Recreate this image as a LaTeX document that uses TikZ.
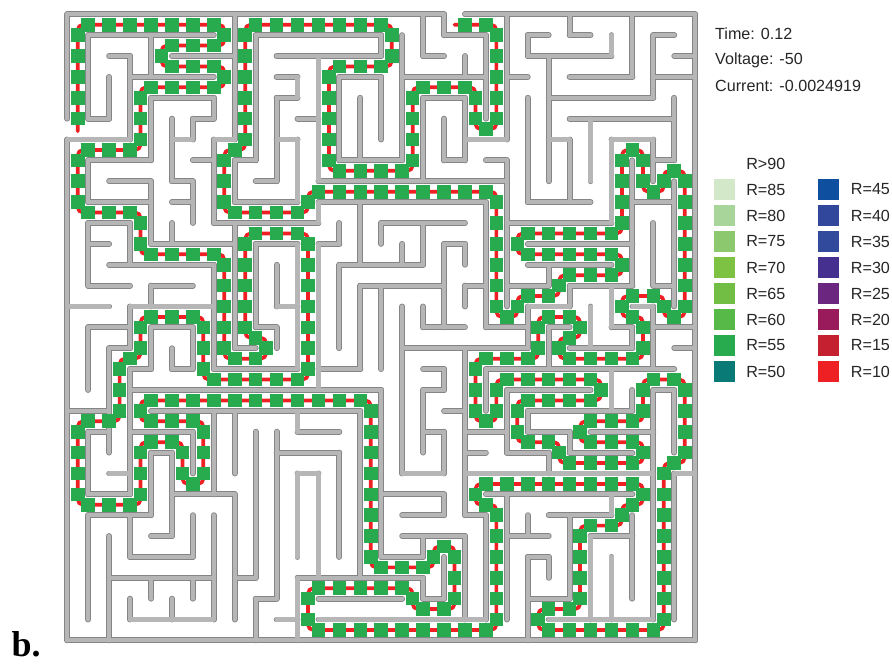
\documentclass[tikz,border=0pt]{standalone}
\usepackage{fontspec}
\setmainfont{Liberation Sans}
\newfontfamily\labelserif{Liberation Serif}
\definecolor{walldark}{HTML}{858585}
\definecolor{walllight}{HTML}{B6B6B6}
\definecolor{routered}{HTML}{EE2024}
\definecolor{rgreen}{HTML}{28AB4F}
\definecolor{c85}{HTML}{D2E8C9}\definecolor{c80}{HTML}{A8D59A}
\definecolor{c75}{HTML}{8BC86E}\definecolor{c70}{HTML}{7DC242}
\definecolor{c65}{HTML}{72BE44}\definecolor{c60}{HTML}{57B947}
\definecolor{c55}{HTML}{28AB4F}\definecolor{c50}{HTML}{0A7A77}
\definecolor{c45}{HTML}{0F4FA0}\definecolor{c40}{HTML}{31479C}
\definecolor{c35}{HTML}{324A9C}\definecolor{c30}{HTML}{45308F}
\definecolor{c25}{HTML}{6B2780}\definecolor{c20}{HTML}{991B5B}
\definecolor{c15}{HTML}{C4202F}\definecolor{c10}{HTML}{EE2024}
\tikzset{
  walloutline/.style={draw=walldark,line width=4.4pt,line cap=round},
  wallcore/.style={draw=walllight,line width=3.1pt,line cap=round},
  routeline/.style={draw=routered,line width=2.8pt,line cap=round,line join=round,rounded corners=4pt},
  routesq/.style={fill=rgreen},
  txt/.style={anchor=west,inner sep=0pt,font=\fontsize{12.1pt}{14pt}\selectfont,text=black!85},
}
% horizontal walls: y / x1 / x2
\newcommand\hwalls{0/0/18,0/19/30,
1/1/7,1/9/15,1/18/20,1/22/23,1/24/25,1/28/29,
2/2/3,2/5/8,2/10/15,2/17/18,2/22/26,2/29/30,
3/3/7,3/10/11,3/13/15,3/16/20,3/21/22,3/24/27,3/28/30,
4/4/7,4/10/11,4/17/19,4/23/28,
5/1/2,5/6/7,5/11/12,5/24/29,
6/0/3,6/5/6,6/7/8,6/10/11,6/19/21,6/23/24,6/26/28,
7/1/4,7/6/7,7/8/9,7/13/16,7/18/19,7/20/21,7/28/29,
8/2/4,8/5/6,8/9/10,8/12/21,
9/1/4,9/5/6,9/8/11,9/12/20,9/22/25,9/27/29,
10/1/3,10/7/12,10/15/19,10/21/26,
11/1/2,11/4/8,11/9/11,11/12/13,11/18/19,11/22/27,
12/2/7,12/13/17,12/22/26,
13/1/3,13/4/6,13/14/18,13/19/20,13/21/23,13/24/27,13/28/29,
14/0/2,14/3/7,14/10/11,14/22/24,14/27/28,
15/1/3,15/4/6,15/9/10,15/17/19,15/20/22,15/23/24,15/26/27,15/28/30,
16/2/3,16/8/9,16/16/22,16/24/27,16/29/30,
17/3/4,17/5/6,17/7/11,17/12/14,17/17/18,17/20/29,
18/3/15,18/17/18,18/21/25,18/28/29,
19/0/2,19/4/14,19/18/19,19/22/27,
20/1/2,20/3/6,20/11/13,20/17/18,20/19/21,20/22/24,20/25/28,
21/4/5,21/10/13,21/19/20,21/21/23,21/24/27,
22/2/3,22/11/12,22/16/18,22/19/28,22/29/30,
23/1/3,23/5/8,23/15/18,23/20/27,
24/1/4,24/16/18,24/19/20,24/23/26,
25/4/5,25/16/19,25/21/23,25/25/27,
26/3/6,26/15/17,26/22/23,
27/2/7,27/8/9,27/11/17,
28/9/10,28/12/16,28/17/18,28/22/24,
29/3/7,29/10/11,29/12/20,29/23/28,
30/0/30}
% vertical walls: x / y1 / y2
\newcommand\vwalls{0/0/5,0/6/30,
1/1/5,1/7/9,1/10/13,1/15/18,1/20/23,1/24/29,
2/3/5,2/16/21,2/25/30,
3/2/6,3/10/12,3/14/16,3/17/23,3/24/26,3/28/29,
4/1/3,4/4/7,4/8/11,4/13/14,4/15/17,4/21/24,4/27/28,
5/5/8,5/10/11,5/16/17,5/21/25,5/28/29,
6/5/6,6/8/10,6/15/17,6/20/22,6/24/26,6/27/28,
7/4/5,7/6/10,7/12/17,7/19/23,7/24/29,
8/0/6,8/7/9,8/10/16,8/19/22,8/23/29,
9/1/7,9/11/15,9/20/27,9/28/30,
10/4/8,10/12/14,10/15/16,10/20/28,
11/3/4,11/6/9,11/11/17,11/19/20,11/22/26,11/27/30,
12/2/8,12/9/10,12/11/18,12/22/27,
13/3/7,13/10/11,13/12/16,13/21/26,
14/4/7,14/9/12,14/13/17,14/19/27,
15/1/2,15/3/6,15/10/11,15/13/17,15/18/26,
16/1/7,16/11/12,16/14/22,
17/0/2,17/4/8,17/10/12,17/14/15,17/18/21,17/25/26,17/27/28,
18/0/1,18/5/7,18/11/15,18/17/18,18/20/22,18/23/24,18/26/28,
19/2/3,19/4/7,19/11/12,19/13/14,19/16/24,19/25/29,
20/1/5,20/9/15,20/17/19,20/24/29,
21/0/6,21/7/14,21/18/21,21/23/29,
22/1/2,22/4/9,22/14/16,22/19/20,22/24/25,22/26/30,
23/2/8,23/12/13,23/15/17,23/21/22,23/26/27,
24/0/1,24/6/9,24/13/14,24/20/21,24/24/28,
25/5/8,25/14/16,25/25/29,
26/1/2,26/6/10,26/13/15,26/17/19,26/23/24,26/26/29,
27/0/3,27/7/13,27/15/16,27/18/19,27/24/28,
28/1/4,28/6/8,28/10/13,28/14/17,28/18/29,
29/4/7,29/8/14,29/18/21,29/22/29,
30/0/30}
% corner cells of the route: column / row
\newcommand\routecells{0/0,7/0,7/1,4/1,4/2,7/2,7/3,3/3,3/6,0/6,0/9,3/9,3/11,7/11,7/16,9/16,9/15,8/15,8/10,11/10,11/17,6/17,6/14,3/14,3/16,2/16,2/19,0/19,0/23,3/23,3/20,5/20,5/22,6/22,6/19,3/19,3/18,14/18,14/26,17/26,17/25,18/25,18/28,16/28,16/27,11/27,11/29,20/29,20/23,19/23,19/22,27/22,27/23,26/23,26/24,24/24,24/28,22/28,22/29,28/29,28/21,29/21,29/17,27/17,27/19,24/19,24/20,27/20,27/21,23/21,23/20,21/20,21/18,25/18,25/17,20/17,20/19,19/19,19/16,22/16,22/14,24/14,24/15,23/15,23/16,27/16,27/14,26/14,26/13,28/13,28/14,29/14,29/7,28/7,28/8,27/8,27/6,26/6,26/10,21/10,21/11,26/11,26/12,23/12,23/13,21/13,21/14,20/14,20/8,11/8,11/9,7/9,7/6,8/6,8/0,15/0,15/2,12/2,12/7,16/7,16/3,19/3,19/5,20/5,20/0,18/0}
\begin{document}
\begin{tikzpicture}[x=15.6975pt,y=-15.6525pt]
\useasboundingbox[fill=white] (0pt,0pt) rectangle (669pt,-498.75pt);
\begin{scope}[shift={(50.475pt,-10.725pt)}]
  \foreach \a/\b/\c in \hwalls {\draw[walloutline] (\b,\a) -- (\c,\a);}
  \foreach \a/\b/\c in \vwalls {\draw[walloutline] (\a,\b) -- (\a,\c);}
  \foreach \a/\b/\c in \hwalls {\draw[wallcore] (\b,\a) -- (\c,\a);}
  \foreach \a/\b/\c in \vwalls {\draw[wallcore] (\a,\b) -- (\a,\c);}
  \begin{scope}[shift={(.5,.5)}]
    \draw[routeline] (0,5.1) foreach \c/\r in \routecells { -- (\c,\r) };
    \foreach \c/\r [remember=\c as \pc (initially 0),remember=\r as \pr (initially 5)] in \routecells {
      \pgfmathtruncatemacro{\nsteps}{abs(\c-\pc)+abs(\r-\pr)}
      \pgfmathsetmacro{\dx}{(\c-\pc)/\nsteps}
      \pgfmathsetmacro{\dy}{(\r-\pr)/\nsteps}
      \foreach \k in {1,...,\nsteps} {
        \pgfmathsetmacro{\qx}{\pc+(\k-.5)*\dx}
        \pgfmathsetmacro{\qy}{\pr+(\k-.5)*\dy}
        \fill[routesq,shift={(\qx,\qy)}] (-5.1pt,-5.1pt) rectangle (5.1pt,5.1pt);
      }
    }
  \end{scope}
\end{scope}
% readouts (positions in pixels x 0.75pt)
\node[txt] (time) at (536.2pt,-25.5pt) {Time: 0.12};
\node[txt] (volt) at (536.2pt,-45pt) {Voltage: -50};
\node[txt] (curr) at (536.2pt,-64.5pt) {Current: -0.0024919};
\node[txt] (rgt) at (559.5pt,-123pt) {R>90};
% legend
\foreach \v/\row in {85/0,80/1,75/2,70/3,65/4,60/5,55/6,50/7} {
  \fill[c\v] (535.7pt,{(-134.6-19.5*\row)*1pt}) rectangle (551.2pt,{(-150.1-19.5*\row)*1pt});
  \node[txt] (lab\v) at (559.5pt,{(-142.1-19.5*\row)*1pt}) {R=\v};
}
\foreach \v/\row in {45/0,40/1,35/2,30/3,25/4,20/5,15/6,10/7} {
  \fill[c\v] (613.7pt,{(-134.6-19.5*\row)*1pt}) rectangle (629.2pt,{(-150.1-19.5*\row)*1pt});
  \node[txt] (lab\v) at (638pt,{(-142.1-19.5*\row)*1pt}) {R=\v};
}
\node[anchor=base west,inner sep=0pt,font=\labelserif\bfseries\fontsize{27pt}{30pt}\selectfont] (panel) at (8.5pt,-492.7pt) {b.};
\end{tikzpicture}
\end{document}
